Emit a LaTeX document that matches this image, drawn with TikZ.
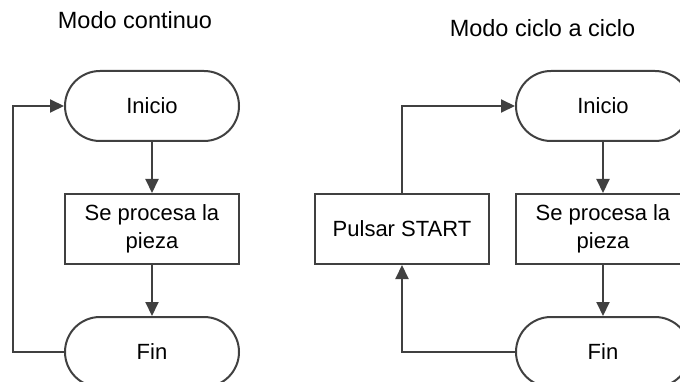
\documentclass[tikz,border=0pt]{standalone}
\usepackage{fontspec}
\setmainfont{Liberation Sans}
\usepackage{tikz}
\usetikzlibrary{shapes.misc, positioning, arrows.meta}
\definecolor{linegray}{RGB}{64,64,64}
\tikzstyle{terminal} = [rounded rectangle, minimum width=174pt, minimum height=70pt, inner sep=0pt, text centered, draw=linegray, line width=2pt, font=\fontsize{22}{27.5}\selectfont]
\tikzstyle{process} = [rectangle, minimum width=174pt, minimum height=70pt, inner sep=0pt, align=center, draw=linegray, line width=2pt, font=\fontsize{22}{27.5}\selectfont]
\tikzstyle{title} = [font=\fontsize{23.5}{28}\selectfont]
\tikzstyle{arrow} = [draw=linegray, line width=2pt, -{Triangle[length=14pt,width=13pt]}]

\begin{document}
\begin{tikzpicture}[x=1pt, y=1pt, node distance=123pt]
\useasboundingbox (0,0) rectangle (680,-382);

% modo continuo
\node (titulo1) [title] at (135,-20) {Modo continuo};
\node (inicio1) [terminal] at (152,-106) {Inicio};
\node (proceso1) [process, below of=inicio1] {Se procesa la\\pieza};
\node (fin1) [terminal, below of=proceso1] {Fin};
\draw [arrow] (inicio1) -- (proceso1);
\draw [arrow] (proceso1) -- (fin1);

\coordinate (vuelta1) at ([xshift=-51pt]fin1.west);
\draw [arrow] (fin1.west) -- (vuelta1) |- (inicio1.west);

% modo ciclo a ciclo
\node (titulo2) [title] at (542.5,-28) {Modo ciclo a ciclo};
\node (inicio2) [terminal, right of=inicio1, xshift=328pt] {Inicio};
\node (proceso2) [process, below of=inicio2] {Se procesa la\\pieza};
\node (fin2) [terminal, below of=proceso2] {Fin};
\node (start) [process, left of=proceso2, xshift=-78pt] {Pulsar START};
\draw [arrow] (inicio2) -- (proceso2);
\draw [arrow] (proceso2) -- (fin2);

\draw [arrow] (fin2.west) -| (start.south);
\draw [arrow] (start.north) |- (inicio2.west);
\end{tikzpicture}
\end{document}
